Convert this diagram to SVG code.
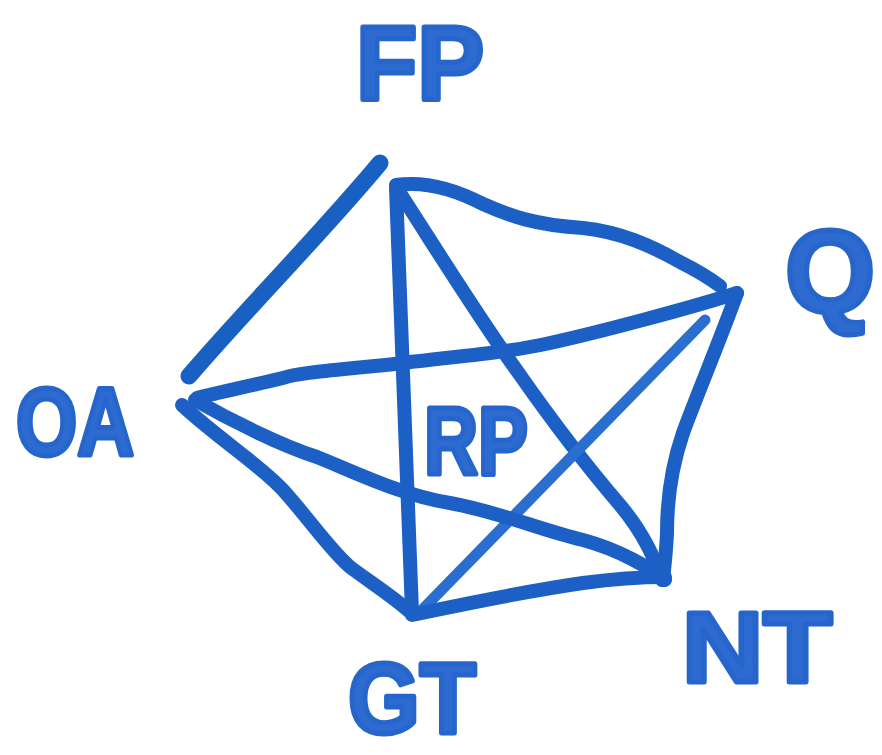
<svg xmlns="http://www.w3.org/2000/svg" width="882" height="755" viewBox="0 0 882 755">
<style>
.c{fill:none;stroke:#1c60c6;stroke-width:14;stroke-linecap:round;stroke-linejoin:round}
.thick{stroke:#1860c2;stroke-width:17}
.thin{stroke:#2a6ed0;stroke-width:11}
.lbl{font-family:"Liberation Sans",Arial,sans-serif;font-weight:bold;fill:#2d6bd0;stroke:#2666cc;stroke-width:5;stroke-linejoin:round;text-anchor:middle}
</style>
<rect width="882" height="755" fill="#ffffff"/>
<g id="connectors">
<path class="c thick" d="M189,376 C250,305 320,235 380,163"/>
<path class="c" d="M396,185 C430,180 460,192 483,204 C510,216 535,225 583,228 C620,232 650,245 680,262 C700,272 712,280 720,286"/>
<path class="c" d="M396,188 C400,300 405,450 412,612"/>
<path class="c" d="M398,190 C440,255 480,320 520,375 C555,425 590,470 620,505 C645,535 655,560 662,580"/>
<path class="c" d="M737,293 C690,308 600,332 550,343 C510,352 470,355 403,363 C340,370 300,372 283,378 C250,386 220,392 197,398"/>
<path class="c thin" d="M705,320 L420,612"/>
<path class="c" d="M737,293 C720,340 695,400 683,433 C672,465 667,500 667,533 C666,555 664,570 663,580"/>
<path class="c" d="M195,400 C230,420 280,445 317,457 C350,470 400,495 450,503 C500,512 540,530 583,540 C620,550 650,568 665,580"/>
<path class="c" d="M182,405 C220,440 260,465 283,490 C310,520 330,550 350,567 C370,582 395,598 410,612"/>
<path class="c" d="M412,615 C450,607 520,592 583,583 C620,578 645,577 665,577"/>
</g>
<g id="FP"><text class="lbl" x="420" y="100" font-size="106" textLength="128" lengthAdjust="spacingAndGlyphs">FP</text></g>
<g id="Q"><text class="lbl" x="830" y="312" font-size="116">Q</text></g>
<g id="OA"><text class="lbl" x="75" y="455" font-size="96" textLength="118" lengthAdjust="spacingAndGlyphs">OA</text></g>
<g id="RP"><text class="lbl" x="476" y="474" font-size="96" textLength="104" lengthAdjust="spacingAndGlyphs">RP</text></g>
<g id="NT"><text class="lbl" x="757" y="682" font-size="100" textLength="150" lengthAdjust="spacingAndGlyphs">NT</text></g>
<g id="GT"><text class="lbl" x="412" y="733" font-size="100" textLength="128" lengthAdjust="spacingAndGlyphs">GT</text></g>
</svg>
